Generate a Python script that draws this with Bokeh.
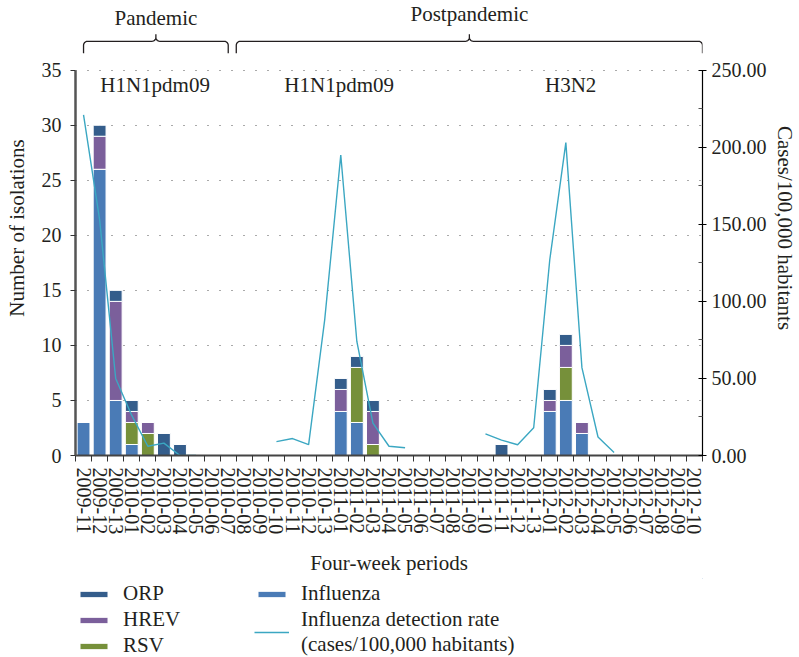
import numpy as np
from bokeh.plotting import figure
from bokeh.layouts import column
from bokeh.models import (Range1d, LinearAxis, FixedTicker, CustomJSTickFormatter,
                          NumeralTickFormatter, Legend, LegendItem, ColumnDataSource,
                          Grid, Label)
from bokeh.embed import file_html
from bokeh.resources import INLINE
from bokeh.core.properties import value

# ---------------- data ----------------
periods = ["2009-11", "2009-12", "2009-13",
           "2010-01", "2010-02", "2010-03", "2010-04", "2010-05", "2010-06", "2010-07",
           "2010-08", "2010-09", "2010-10", "2010-11", "2010-12", "2010-13",
           "2011-01", "2011-02", "2011-03", "2011-04", "2011-05", "2011-06", "2011-07",
           "2011-08", "2011-09", "2011-10", "2011-11", "2011-12", "2011-13",
           "2012-01", "2012-02", "2012-03", "2012-04", "2012-05", "2012-06", "2012-07",
           "2012-08", "2012-09", "2012-10"]

influenza = [3, 26, 5, 1, 0, 0, 0, 0, 0, 0, 0, 0, 0, 0, 0, 0,
             4, 3, 0, 0, 0, 0, 0, 0, 0, 0, 0, 0, 0,
             4, 5, 2, 0, 0, 0, 0, 0, 0, 0]
rsv = [0, 0, 0, 2, 2, 0, 0, 0, 0, 0, 0, 0, 0, 0, 0, 0,
       0, 5, 1, 0, 0, 0, 0, 0, 0, 0, 0, 0, 0,
       0, 3, 0, 0, 0, 0, 0, 0, 0, 0]
hrev = [0, 3, 9, 1, 1, 0, 0, 0, 0, 0, 0, 0, 0, 0, 0, 0,
        2, 0, 3, 0, 0, 0, 0, 0, 0, 0, 0, 0, 0,
        1, 2, 1, 0, 0, 0, 0, 0, 0, 0]
orp = [0, 1, 1, 1, 0, 2, 1, 0, 0, 0, 0, 0, 0, 0, 0, 0,
       1, 1, 1, 0, 0, 0, 0, 0, 0, 0, 1, 0, 0,
       1, 1, 0, 0, 0, 0, 0, 0, 0, 0]
# influenza detection rate (cases/100,000 habitants); None = not reported
rate = [221, 153, 50, 26, 6, 8, 0, 0, None, None, None, None,
        9, 11, 7, 88, 195, 74, 21, 6, 5, None, None, None, None,
        14, 10, 7, 18, 127, 203, 57, 12, 2, None, None, None, None, None]

count_ticks = [0, 5, 10, 15, 20, 25, 30, 35]
rate_ticks = [0, 50, 100, 150, 200, 250]
rate_minor = [25, 75, 125, 175, 225]

subtype_labels = ["H1N1pdm09", "H1N1pdm09", "H3N2"]
subtype_pos = [4.95, 16.4, 30.8]
phase_names = ["Pandemic", "Postpandemic"]
phase_spans = [(0.5, 9.5), (10.0, 39.0)]

# ---------------- style / layout ----------------
FONT = "Liberation Serif"
FS = "20px"
FS_T = "21px"
TXT = "#231f20"
C_INF, C_RSV, C_HREV, C_ORP = "#4a7bb6", "#76903a", "#7b5f9b", "#345d8b"
C_LINE = "#3ba7c2"

W, H1, H2 = 799, 578, 79
LB, RB, TB = 75, 96, 0
FRAME_BOTTOM = 457
BB = H1 - FRAME_BOTTOM
frame_h = FRAME_BOTTOM - TB
frame_w = W - LB - RB
n = len(periods)
count_max = count_ticks[-1]
rate_max = rate_ticks[-1]
count_px = 387.0                      # pixel height of 0..35
y_top = count_max * frame_h / count_px
rate_top = y_top * rate_max / count_max
pxu = frame_w / n                     # px per category
pyu = count_px / count_max            # px per count unit

x = np.arange(n) + 0.5
src = ColumnDataSource(dict(
    x=x, influenza=influenza, rsv=rsv, hrev=hrev, orp=orp,
    rate=np.array([np.nan if v is None else v for v in rate], dtype=float)))

p = figure(width=W, height=H1, x_range=Range1d(0, n), y_range=Range1d(0, y_top),
           output_backend="svg", toolbar_location=None,
           x_axis_type=None, y_axis_type=None,
           min_border_left=LB, min_border_right=RB, min_border_top=TB,
           min_border_bottom=BB)
p.outline_line_color = None
p.extra_y_ranges = {"rate": Range1d(0, rate_top)}

# grid
p.add_layout(Grid(dimension=1, ticker=FixedTicker(ticks=count_ticks[1:]),
                  grid_line_color="#555555", grid_line_dash="1 11",
                  grid_line_width=1.2))

# bars
BAR = dict(width=0.8, line_color="white", line_width=1)
p.vbar_stack(["influenza", "rsv", "hrev", "orp"], x="x",
             color=[C_INF, C_RSV, C_HREV, C_ORP], source=src, **BAR)

# rate line
LINE = dict(line_color=C_LINE, line_width=1.4)
p.line("x", "rate", source=src, y_range_name="rate", **LINE)

# axes
def style_axis(ax):
    ax.major_label_text_font = FONT
    ax.major_label_text_font_size = FS
    ax.major_label_text_color = TXT
    ax.axis_label_text_font = FONT
    ax.axis_label_text_font_size = FS_T
    ax.axis_label_text_font_style = "normal"
    ax.axis_label_text_color = TXT

yl = LinearAxis(ticker=FixedTicker(ticks=count_ticks), bounds=(0, count_max),
                axis_label="Number of isolations",
                axis_line_width=2.5, axis_line_color="#555555",
                major_tick_out=5, major_tick_in=0, minor_tick_out=0, minor_tick_in=0,
                major_tick_line_color="#333333", major_label_standoff=9,
                axis_label_standoff=10)
style_axis(yl)
p.add_layout(yl, "left")

yr = LinearAxis(y_range_name="rate",
                ticker=FixedTicker(ticks=rate_ticks, minor_ticks=rate_minor),
                formatter=NumeralTickFormatter(format="0.00"), bounds=(0, rate_max),
                axis_label="Cases/100,000 habitants",
                axis_label_orientation="vertical",
                axis_line_color="black", axis_line_width=1.2,
                major_tick_in=4, major_tick_out=4, minor_tick_in=4, minor_tick_out=0,
                major_tick_line_color="black", minor_tick_line_color="#555555",
                major_label_standoff=5, axis_label_standoff=3)
style_axis(yr)
p.add_layout(yr, "right")

xb = LinearAxis(ticker=FixedTicker(ticks=list(x), minor_ticks=list(range(n + 1))),
                formatter=CustomJSTickFormatter(args=dict(labels=periods),
                                                code="return labels[Math.floor(tick)] || ''"),
                axis_label="Four-week periods",
                axis_line_width=2, axis_line_color="#444444",
                major_tick_out=0, major_tick_in=0, minor_tick_out=6, minor_tick_in=0,
                minor_tick_line_color="#333333",
                major_label_orientation="vertical", major_label_standoff=6,
                axis_label_standoff=14)
style_axis(xb)
p.add_layout(xb, "below")

# subtype labels
p.text(x=subtype_pos, y=[(FRAME_BOTTOM - 85) / pyu] * len(subtype_pos), text=subtype_labels,
       text_font=value(FONT), text_font_size=FS_T, text_color=TXT,
       text_align="center", text_baseline="middle")

# braces above the chart
def brace(x0, x1):
    xm = (x0 + x1) / 2
    yb = (FRAME_BOTTOM - 53) / pyu
    yt = (FRAME_BOTTOM - 41) / pyu
    ytip = (FRAME_BOTTOM - 34) / pyu
    rx, ry = 4 / pxu, 4 / pyu
    xs, ys = [x0], [yb]
    def arc(cx, cy, a0, a1):
        t = np.linspace(a0, a1, 8)
        xs.extend(cx + rx * np.cos(t)); ys.extend(cy + ry * np.sin(t))
    arc(x0 + rx, yt - ry, np.pi, np.pi / 2)
    arc(xm - rx, yt + ry, -np.pi / 2, 0)
    xs.append(xm); ys.append(ytip)
    arc(xm + rx, yt + ry, np.pi, 1.5 * np.pi)
    arc(x1 - rx, yt - ry, np.pi / 2, 0)
    xs.append(x1); ys.append(yb)
    return xs, ys

for (a, b), name, ty in zip(phase_spans, phase_names, [18, 14]):
    bx, by = brace(a, b)
    p.line(bx, by, line_color=TXT, line_width=1.3)
    p.add_layout(Label(x=(a + b) / 2, y=(FRAME_BOTTOM - ty) / pyu, text=name,
                       text_font=FONT, text_font_size=FS_T, text_color=TXT,
                       text_align="center", text_baseline="middle"))

# ---------------- legend strip (same glyphs, kept out of view) ----------------
q = figure(width=W, height=H2, x_range=Range1d(-200, -100), y_range=Range1d(-200, -100),
           output_backend="svg", toolbar_location=None,
           x_axis_type=None, y_axis_type=None, min_border=0)
q.outline_line_color = None
q.grid.visible = False
l_orp = q.vbar(x="x", top="orp", color=C_ORP, source=src, **BAR)
l_hrev = q.vbar(x="x", top="hrev", color=C_HREV, source=src, **BAR)
l_rsv = q.vbar(x="x", top="rsv", color=C_RSV, source=src, **BAR)
l_inf = q.vbar(x="x", top="influenza", color=C_INF, source=src, **BAR)
l_line = q.line("x", "rate", source=src, **LINE)

def style_legend(lg):
    lg.border_line_color = None
    lg.background_fill_alpha = 0
    lg.padding = 0
    lg.margin = 0
    lg.glyph_width = 35
    lg.glyph_height = 8
    lg.label_height = 21
    lg.spacing = 1
    lg.label_standoff = 12
    lg.label_text_font = FONT
    lg.label_text_font_size = FS_T
    lg.label_text_color = TXT

leg1 = Legend(items=[LegendItem(label="ORP", renderers=[l_orp]),
                     LegendItem(label="HREV", renderers=[l_hrev]),
                     LegendItem(label="RSV", renderers=[l_rsv])],
              location=(1, -1))
leg2 = Legend(items=[LegendItem(label="Influenza", renderers=[l_inf]),
                     LegendItem(label="Influenza detection rate\n(cases/100,000 habitants)",
                                renderers=[l_line])],
              location=(179, 0))
style_legend(leg1)
style_legend(leg2)
q.add_layout(leg1, "center")
q.add_layout(leg2, "center")

open("out.html", "w").write(file_html(column(p, q, spacing=0), INLINE))
